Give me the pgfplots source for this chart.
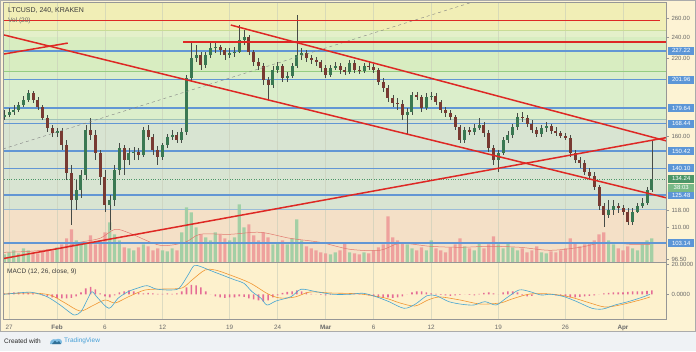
\documentclass[border=0pt]{standalone}
\usepackage{pgfplots}
\pgfplotsset{compat=1.18}
\usepackage{pgfplotstable}
\usepackage{fontspec}
\setmainfont{Liberation Sans}
\setsansfont{Liberation Sans}

\definecolor{bgfoot}{RGB}{239,242,245}
\definecolor{cream}{RGB}{253,243,212}
\definecolor{macdbg}{RGB}{253,241,205}
\definecolor{bandA}{RGB}{244,224,199}
\definecolor{bandB}{RGB}{216,228,210}
\definecolor{bandC}{RGB}{219,238,203}
\definecolor{bandD}{RGB}{216,237,193}
\definecolor{bandE}{RGB}{228,240,202}
\definecolor{bandF}{RGB}{241,238,182}
\definecolor{lvlblue}{RGB}{98,150,212}
\definecolor{boxblue}{RGB}{92,150,215}
\definecolor{trendred}{RGB}{222,40,36}
\definecolor{upc}{RGB}{58,120,82}
\definecolor{dnc}{RGB}{120,58,50}
\definecolor{wick}{RGB}{70,75,70}
\definecolor{volup}{RGB}{150,205,160}
\definecolor{voldn}{RGB}{238,150,150}
\definecolor{volma}{RGB}{225,120,110}
\definecolor{macdblue}{RGB}{70,165,210}
\definecolor{macdorange}{RGB}{240,150,50}
\definecolor{histpink}{RGB}{225,85,140}
\definecolor{txtgrey}{RGB}{105,105,105}
\definecolor{framegrey}{RGB}{150,150,150}
\definecolor{curgreen}{RGB}{76,150,104}
\definecolor{curgreen2}{RGB}{120,185,135}
\definecolor{tvblue}{RGB}{70,160,215}
\definecolor{gridc}{RGB}{200,205,185}
\definecolor{lineA}{RGB}{200,220,150}
\definecolor{lineB}{RGB}{150,205,130}
\definecolor{lineC}{RGB}{160,195,185}
\definecolor{lineD}{RGB}{155,188,215}

% up candles: day open high low close volume
\pgfplotstableread{
d o h l c v
-0.5 173.2 178.3 171.1 174.6 8
0 174.6 179.7 173.2 176.8 10
0.5 176.8 181.9 174.6 178.3 12
1 178.3 184.2 176.8 181.9 9
1.5 181.9 188.8 180.5 185.8 14
2 185.8 193.5 184.2 191.2 12
5 162.2 165.5 159.5 163.5 15
7 123.1 133.6 118.1 128.3 22
7.5 128.3 139.3 124.1 136.4 18
8 136.4 167.6 133.6 164.2 20
10.5 120.6 125.7 108.8 123.1 40
11 123.1 142.2 120.1 139.3 28
11.5 139.3 155.6 136.4 152.5 22
12.5 145.1 152.5 142.2 149.4 14
13 149.4 153.1 145.1 150.0 12
14 148.1 166.2 146.9 164.2 18
16 146.9 155.6 145.1 154.4 12
16.5 154.4 161.5 152.5 159.5 11
17 159.5 164.2 157.6 160.8 14
18 157.6 165.5 155.6 162.8 30
18.5 162.8 205.8 160.8 203.3 55
19 203.3 234.8 200.0 220.8 50
19.5 220.8 232.9 217.2 223.5 35
20.5 214.5 226.3 211.9 223.5 25
21 223.5 234.8 220.8 230.0 22
21.5 230.0 234.8 225.4 231.0 30
23 223.5 230.0 220.8 225.4 22
23.5 225.4 231.0 221.7 226.3 25
24 226.3 253.0 225.4 237.8 58
24.5 237.8 247.8 232.9 240.7 35
27.5 197.5 213.6 195.1 210.1 18
28 210.1 217.2 207.5 213.6 20
29 203.3 208.4 200.0 205.0 18
29.5 205.0 216.3 203.3 213.6 24
30 213.6 263.5 211.9 223.5 43
30.5 223.5 230.0 219.0 225.4 22
33.5 205.8 214.5 204.2 211.9 8
34 211.9 217.2 210.1 213.6 10
35.5 208.4 219.0 206.7 216.3 10
37 209.2 216.3 207.5 213.6 10
41.5 174.6 179.7 160.8 176.8 18
42 176.8 191.9 174.6 189.6 14
43.5 179.7 191.2 178.3 188.0 12
44 188.0 191.9 185.8 188.8 22
47.5 157.6 166.2 155.6 164.2 16
48.5 162.8 168.3 160.8 165.5 12
49 165.5 172.5 164.2 167.6 20
51 145.1 151.2 138.2 149.4 18
51.5 149.4 159.5 148.1 157.6 14
52 157.6 163.5 155.6 160.8 20
52.5 160.8 168.3 158.8 166.2 15
53 166.2 176.1 164.2 173.2 12
55.5 161.5 167.6 159.5 165.5 10
56 165.5 169.7 162.8 166.9 9
62.5 115.7 123.1 114.3 118.1 22
63 118.1 123.1 115.7 120.1 18
65 112.4 119.1 111.1 117.2 14
65.5 117.2 121.6 116.7 120.1 12
66 120.1 124.1 119.1 121.6 18
66.5 121.6 129.9 120.6 128.3 22
67 128.3 157.6 127.2 134.24 24
}\upc

% down candles
\pgfplotstableread{
d o h l c v
2.5 191.2 192.7 183.4 185.8 10
3 185.8 188.0 178.3 180.5 9
3.5 180.5 181.9 171.1 172.5 11
4 172.5 174.6 162.8 165.5 13
4.5 165.5 167.6 159.5 162.2 12
5.5 163.5 165.5 151.2 154.4 18
6 154.4 157.6 133.6 137.6 24
6.5 137.6 142.2 111.1 123.1 33
8.5 164.2 172.5 157.6 160.8 27
9 160.8 164.2 145.1 149.4 18
9.5 149.4 151.2 130.9 135.3 22
10 135.3 139.3 117.2 120.6 30
12 152.5 154.4 136.4 145.1 15
13.5 150.0 152.5 145.1 148.1 15
14.5 164.2 167.6 157.6 159.5 16
15 159.5 161.5 148.1 151.2 12
15.5 151.2 153.7 142.2 146.9 14
17.5 160.8 162.8 155.6 157.6 12
20 223.5 226.3 210.1 214.5 28
22 231.0 232.9 223.5 228.2 28
22.5 228.2 230.0 219.0 223.5 24
25 240.7 242.8 223.5 226.3 38
25.5 226.3 228.2 213.6 217.2 27
26 217.2 220.8 210.1 213.6 22
26.5 213.6 216.3 197.5 201.6 30
27 201.6 204.2 185.8 197.5 25
28.5 213.6 215.4 200.0 203.3 22
31 225.4 228.2 217.2 220.8 16
31.5 220.8 223.5 215.4 219.0 14
32 219.0 221.7 213.6 217.2 12
32.5 217.2 219.0 208.4 211.9 10
33 211.9 214.5 203.3 205.8 9
34.5 213.6 216.3 206.7 210.1 12
35 210.1 212.8 205.8 208.4 20
36 216.3 219.0 207.5 210.1 9
36.5 210.1 213.6 206.7 209.2 8
37.5 213.6 217.2 210.1 212.8 9
38 212.8 215.4 207.5 210.1 12
38.5 210.1 211.9 197.5 200.0 15
39 200.0 203.3 191.9 195.1 18
39.5 195.1 197.5 184.2 187.3 46
40 187.3 189.6 180.5 183.4 25
40.5 183.4 187.3 178.3 182.7 22
41 182.7 185.8 171.1 174.6 20
42.5 189.6 191.9 185.8 188.0 12
43 188.0 189.6 176.8 179.7 15
44.5 188.8 191.2 181.9 184.2 14
45 184.2 185.8 176.1 178.3 12
45.5 178.3 180.5 173.2 176.1 10
46 176.1 178.3 171.1 173.2 15
46.5 173.2 174.6 164.2 166.2 18
47 166.2 167.6 155.6 157.6 24
48 164.2 166.2 160.8 162.8 14
49.5 167.6 169.7 159.5 162.2 14
50 162.2 164.2 150.0 152.5 18
50.5 152.5 154.4 142.2 145.1 26
53.5 173.2 176.8 169.7 172.5 14
54 172.5 174.6 166.2 168.3 10
54.5 168.3 171.1 162.2 164.2 12
55 164.2 166.2 159.5 161.5 16
56.5 166.9 168.3 161.5 163.5 11
57 163.5 166.2 160.2 162.2 10
57.5 162.2 163.5 158.8 160.2 12
58 160.2 162.2 157.6 158.8 14
58.5 158.8 160.8 146.9 149.4 24
59 149.4 151.2 143.4 145.1 20
59.5 145.1 146.9 140.4 143.4 16
60 143.4 145.1 136.4 138.2 18
60.5 138.2 140.4 133.6 135.9 20
61 135.9 138.2 128.3 129.9 22
61.5 129.9 130.9 118.1 120.1 28
62 120.1 121.6 110.2 115.7 30
63.5 120.1 121.6 116.7 119.1 14
64 119.1 120.6 115.7 117.2 12
64.5 117.2 119.1 111.1 112.4 16
}\dnc

\pgfplotstableread{
d ma
-0.52 10
2.19 11
5.32 14
7.40 20
9.49 24
11.05 33
12.61 29
15.74 17
18.34 20
19.91 28
23.04 28
26.16 30
29.29 24
32.42 20
35.54 13
38.67 12
40.75 19
43.88 16
47.01 15
50.14 16
53.26 15
56.39 12
59.52 15
62.12 20
64.73 18
66.81 18
}\volmatab

\pgfplotstableread{
d m
-0.52 0.13
1.77 1.44
2.61 1.18
3.96 -1.44
5.32 -6.89
6.46 -12.33
6.88 -13.44
7.50 -11.28
8.23 -2.49
8.65 1.84
9.28 -2.49
10.42 -9.05
11.36 -2.49
12.40 1.84
13.34 4.07
14.38 5.77
15.32 3.61
16.68 2.95
17.72 4.07
18.66 12.79
19.28 18.89
20.01 18.23
20.85 16.07
22.20 12.79
23.56 9.51
24.49 7.34
25.33 1.84
26.27 -2.49
26.89 -6.89
27.83 -4.26
29.39 -1.44
30.44 3.41
32.00 1.84
33.77 0.13
35.54 0.13
36.90 0.79
38.25 -1.44
39.61 -4.72
41.17 -9.05
42.32 -6.43
43.57 -0.79
44.51 -0.79
45.86 -4.72
47.22 -6.43
48.47 -6.89
49.61 -4.72
50.76 -6.89
51.80 -2.49
53.16 2.95
54.31 1.84
55.45 -0.33
56.49 0.13
57.85 -1.44
59.20 -4.72
60.77 -9.05
61.91 -9.51
63.16 -6.89
64.52 -4.72
65.87 -2.10
66.81 0.13
}\macdtab

\pgfplotstableread{
d s
-0.52 0.33
2.19 0.98
4.27 -0.33
5.84 -5.57
7.40 -10.82
8.65 -7.54
10.01 -3.61
11.05 -5.57
12.40 -1.64
14.18 2.95
16.26 3.61
18.03 4.26
19.07 9.51
20.43 16.07
21.47 16.07
23.04 12.79
25.12 7.54
27.00 0.33
28.25 -2.30
29.81 -1.64
31.37 1.64
33.46 0.98
36.59 0.33
39.19 -2.30
40.75 -5.57
42.32 -7.54
43.67 -3.61
44.92 -1.64
47.01 -3.61
49.09 -6.23
51.18 -5.57
52.43 -2.95
54.31 0.33
56.39 0.33
58.48 -1.64
60.56 -5.57
62.12 -8.20
63.68 -6.89
65.77 -3.61
66.81 -1.64
}\sigtab

\pgfplotstableread{
d h
-0.5 0.66
0 0.98
0.5 1.31
1 1.31
1.5 1.31
2 0.98
2.5 0.66
3 0
3.5 -0.66
4 -1.31
4.5 -1.97
5 -2.30
5.5 -2.62
6 -2.62
6.5 -2.30
7 -1.31
7.5 1.31
8 3.93
8.5 4.92
9 3.28
9.5 0.66
10 -1.31
10.5 -1.97
11 -0.66
11.5 1.31
12 1.97
12.5 2.62
13 1.97
13.5 1.31
14 0.66
14.5 0.98
15 0.66
15.5 0.33
16 0.33
16.5 0.66
17 0.33
17.5 0.66
18 1.97
18.5 4.59
19 6.23
19.5 5.90
20 4.59
20.5 1.97
21 0
21.5 -1.31
22 -1.97
22.5 -2.30
23 -1.97
23.5 -1.97
24 -1.31
24.5 -1.64
25 -2.62
25.5 -3.28
26 -3.93
26.5 -4.59
27 -3.93
27.5 -1.97
28 -0.66
28.5 0.98
29 1.64
29.5 1.97
30 2.62
30.5 1.97
31 1.31
31.5 0.33
32 0
32.5 -0.33
33 -0.66
33.5 -0.33
34 0
34.5 0.33
35 0.33
35.5 0.66
36 0.66
36.5 0.33
37 0
37.5 -0.66
38 -1.31
38.5 -1.97
39 -2.30
39.5 -1.97
40 -2.30
40.5 -1.97
41 -1.31
41.5 0
42 1.31
42.5 1.97
43 1.97
43.5 1.31
44 0.66
44.5 0.33
45 -0.33
45.5 -0.66
46 -0.98
46.5 -0.66
47 -0.33
47.5 0
48 -0.33
48.5 -0.66
49 0.33
49.5 0.98
50 1.31
50.5 0.66
51 0
51.5 1.31
52 1.97
52.5 1.97
53 1.31
53.5 -0.66
54 -1.31
54.5 -0.98
55 0
55.5 0.33
56 0.33
56.5 0
57 -0.66
57.5 -0.98
58 -1.31
58.5 -1.97
59 -1.97
59.5 -1.64
60 -1.31
60.5 -0.98
61 -0.66
61.5 0
62 0.66
62.5 0.98
63 1.31
63.5 1.31
64 1.31
64.5 1.64
65 1.97
65.5 1.97
66 1.97
66.5 2.30
67 2.62
}\histtab

\pgfplotsset{
  wickplot/.style={draw=none, mark=none, forget plot,
    error bars/.cd, y dir=plus, y explicit, error mark=none,
    error bar style={draw=wick, line width=0.5pt, solid}},
  bodyplot/.style={draw=none, mark=none, forget plot,
    error bars/.cd, y dir=plus, y explicit, error mark=none,
    error bar style={draw=#1, line width=3pt, solid}},
  lvl/.style={lvlblue, line width=1.6pt, forget plot},
}

\begin{document}
\begin{tikzpicture}
\useasboundingbox (0pt,0pt) rectangle (696pt,351pt);
\fill[bgfoot] (0pt,0pt) rectangle (696pt,351pt);
\fill[cream] (0pt,20pt) rectangle (696pt,351pt);

% ---------- background bands ----------
\begin{axis}[at={(3pt,88.7pt)}, anchor=south west, width=663pt, height=259.6pt,
    scale only axis, xmin=-0.63, xmax=68.48,
    ymode=log, ymin=95.25, ymax=277, hide axis]
\fill[bandA] (axis cs:-1,90) rectangle (axis cs:70,118.5);
\fill[bandB] (axis cs:-1,118.5) rectangle (axis cs:70,171.4);
\fill[bandC] (axis cs:-1,171.4) rectangle (axis cs:70,208.9);
\fill[bandD] (axis cs:-1,208.9) rectangle (axis cs:70,240.7);
\fill[bandE] (axis cs:-1,240.7) rectangle (axis cs:70,246.8);
\fill[bandF] (axis cs:-1,246.8) rectangle (axis cs:70,290);
\pgfplotsinvokeforeach{0,5,10,16,23,28,33,38,44,51,58,64}{
  \draw[gridc, line width=0.4pt, opacity=0.6] (axis cs:#1,95.25) -- (axis cs:#1,277);
}
\addplot[lineA, line width=0.6pt] coordinates {(-1,246.8) (70,246.8)};
\addplot[lineB, line width=0.6pt] coordinates {(-1,208.9) (70,208.9)};
\addplot[lineC, line width=0.6pt] coordinates {(-1,171.4) (70,171.4)};
\addplot[lineD, line width=0.6pt] coordinates {(-1,118.5) (70,118.5)};
\end{axis}

% ---------- volume ----------
\begin{axis}[at={(3pt,88.7pt)}, anchor=south west, width=663pt, height=259.6pt,
    scale only axis, xmin=-0.63, xmax=68.48, ymin=0, ymax=259.6, hide axis]
\addplot[ybar, bar width=3.2pt, bar shift=0pt, draw=none, fill=volup, fill opacity=0.85] table[x=d, y=v] {\upc};
\addplot[ybar, bar width=3.2pt, bar shift=0pt, draw=none, fill=voldn, fill opacity=0.85] table[x=d, y=v] {\dnc};
\addplot[volma, line width=0.5pt, smooth] table[x=d, y=ma] {\volmatab};
\end{axis}

% ---------- price ----------
\begin{axis}[at={(3pt,88.7pt)}, anchor=south west, width=663pt, height=259.6pt,
  scale only axis, xmin=-0.63, xmax=68.48,
  ymode=log, ymin=95.25, ymax=277,
  axis x line=none, axis y line*=right,
  y axis line style={draw=framegrey, line width=0.6pt},
  ytick={96.5,110,118,160,220,240,260},
  yticklabels={96.50,110.00,118.00,160.00,220.00,240.00,260.00},
  yminorticks=false,
  tick align=outside, major tick length=3pt,
  ytick style={draw=framegrey, line width=0.5pt},
  yticklabel style={font=\fontsize{6}{7}\selectfont, text=txtgrey, xshift=-1pt},
  clip=true]
\addplot[lvl] coordinates {(-1,227.22) (70,227.22)};
\addplot[lvl] coordinates {(-1,201.96) (70,201.96)};
\addplot[lvl] coordinates {(-1,179.64) (70,179.64)};
\addplot[lvl] coordinates {(-1,168.44) (70,168.44)};
\addplot[lvl] coordinates {(-1,150.42) (70,150.42)};
\addplot[lvl] coordinates {(-1,140.10) (70,140.10)};
\addplot[lvl] coordinates {(-1,125.48) (70,125.48)};
\addplot[lvl] coordinates {(-1,103.14) (70,103.14)};
\addplot[curgreen, line width=0.4pt, dotted] coordinates {(-1,134.24) (70,134.24)};
% wicks
\addplot[wickplot] table[x=d, y=l, y error plus expr=\thisrow{h}-\thisrow{l}] {\upc};
\addplot[wickplot] table[x=d, y=l, y error plus expr=\thisrow{h}-\thisrow{l}] {\dnc};
% bodies
\addplot[bodyplot=upc] table[x=d, y=o, y error plus expr=\thisrow{c}-\thisrow{o}] {\upc};
\addplot[bodyplot=dnc] table[x=d, y=c, y error plus expr=\thisrow{o}-\thisrow{c}] {\dnc};
% drawings
\addplot[gray, dashed, line width=0.4pt] coordinates {(-0.63,151.8) (48.05,276.8)};
\addplot[trendred, line width=1.6pt] coordinates {(-0.63,257.5) (67.86,257.5)};
\addplot[trendred, line width=1.6pt] coordinates {(18.14,235.9) (68.48,235.9)};
\addplot[trendred, line width=1.5pt] coordinates {(-0.59,224.2) (6.12,234.6)};
\addplot[trendred, line width=1.5pt] coordinates {(-0.63,242.8) (68.48,124.2)};
\addplot[trendred, line width=1.5pt] coordinates {(23.11,252.7) (68.48,156.97)};
\addplot[trendred, line width=1.5pt] coordinates {(-0.63,96.7) (68.48,159.0)};
\coordinate (b1) at (axis cs:68.48,227.22);
\coordinate (b2) at (axis cs:68.48,201.96);
\coordinate (b3) at (axis cs:68.48,179.64);
\coordinate (b4) at (axis cs:68.48,168.44);
\coordinate (b5) at (axis cs:68.48,150.42);
\coordinate (b6) at (axis cs:68.48,140.10);
\coordinate (b7) at (axis cs:68.48,125.48);
\coordinate (b8) at (axis cs:68.48,103.14);
\coordinate (g1) at (axis cs:68.48,134.24);
\end{axis}

% ---------- MACD ----------
\begin{axis}[at={(3pt,32pt)}, anchor=south west, width=663pt, height=56.7pt, scale only axis,
  xmin=-0.63, xmax=68.48, ymin=-16.07, ymax=21.1,
  axis background/.style={fill=macdbg},
  axis x line*=bottom, axis y line*=right,
  axis line style={draw=framegrey, line width=0.6pt},
  xtick={0,5,10,16,23,28,33,38,44,51,58,64},
  xticklabels={27,\textbf{Feb},6,12,19,24,\textbf{Mar},6,12,19,26,\textbf{Apr}},
  xtick style={draw=none},
  xticklabel style={font=\fontsize{6.3}{7}\selectfont, text=txtgrey, yshift=0.5pt},
  xmajorgrids, grid style={draw=gridc, line width=0.4pt, opacity=0.6},
  ytick={0,20}, yticklabels={0.0000,20.0000},
  ytick style={draw=framegrey}, tick align=outside, major tick length=3pt,
  yticklabel style={font=\fontsize{6}{7}\selectfont, text=txtgrey, xshift=-1pt},
  clip=true]
\addplot[ybar, bar width=1.6pt, bar shift=0pt, draw=none, fill=histpink, fill opacity=0.85] table[x=d, y=h] {\histtab};
\addplot[macdorange, line width=0.6pt, smooth] table[x=d, y=s] {\sigtab};
\addplot[macdblue, line width=0.6pt, smooth] table[x=d, y=m] {\macdtab};
\end{axis}

% ---------- frames ----------
\draw[framegrey, line width=0.6pt] (3pt,32pt) rectangle (666pt,348.3pt);
\draw[framegrey, line width=0.6pt] (3pt,88.7pt) -- (666pt,88.7pt);
\draw[framegrey!80, line width=0.6pt] (0.3pt,20pt) rectangle (695.7pt,350.7pt);

% ---------- price labels ----------
\tikzset{lbl/.style={anchor=west, fill=#1, text=white, font=\fontsize{6}{7}\selectfont,
  minimum width=26pt, minimum height=8pt, inner sep=0.5pt}}
\node[lbl=boxblue] at ([xshift=2pt]b1) {227.22};
\node[lbl=boxblue] at ([xshift=2pt]b2) {201.96};
\node[lbl=boxblue] at ([xshift=2pt]b3) {179.64};
\node[lbl=boxblue] at ([xshift=2pt]b4) {168.44};
\node[lbl=boxblue] at ([xshift=2pt]b5) {150.42};
\node[lbl=boxblue] at ([xshift=2pt]b6) {140.10};
\node[lbl=boxblue] at ([xshift=2pt]b7) {125.48};
\node[lbl=boxblue] at ([xshift=2pt]b8) {103.14};
\node[lbl=curgreen] at ([xshift=2pt]g1) {134.24};
\node[lbl=curgreen2] at ([xshift=2pt,yshift=-9pt]g1) {38:03};

% ---------- texts ----------
\node[anchor=west, font=\fontsize{7}{8}\selectfont, text={rgb,255:red,60;green,60;blue,60}, inner sep=0pt] at (8pt,340.3pt) {LTCUSD, 240, KRAKEN};
\node[anchor=west, font=\fontsize{6.5}{7}\selectfont, text=txtgrey, inner sep=0pt] at (8pt,330pt) {Vol (20)};
\node[anchor=west, font=\fontsize{6.5}{7}\selectfont, text={rgb,255:red,60;green,60;blue,60}, inner sep=0pt] at (7pt,79pt) {MACD (12, 26, close, 9)};
\node[anchor=west, font=\fontsize{6.5}{7}\selectfont, text={rgb,255:red,40;green,40;blue,40}, inner sep=0pt] at (4pt,10pt) {Created with};
\fill[tvblue!70] (50pt,7pt) .. controls (50pt,11pt) and (53pt,12.5pt) .. (56pt,11.5pt) .. controls (58pt,13pt) and (62pt,12pt) .. (62pt,9pt) .. controls (62pt,7.5pt) and (61pt,7pt) .. (60pt,7pt) -- cycle;
\fill[tvblue!70!black] (52pt,7pt) -- (55pt,10.5pt) -- (57pt,8.5pt) -- (59pt,10pt) -- (61pt,7pt) -- cycle;
\node[anchor=west, font=\fontsize{6.5}{7}\selectfont, text=tvblue, inner sep=0pt] at (64pt,10pt) {TradingView};
\end{tikzpicture}
\end{document}
